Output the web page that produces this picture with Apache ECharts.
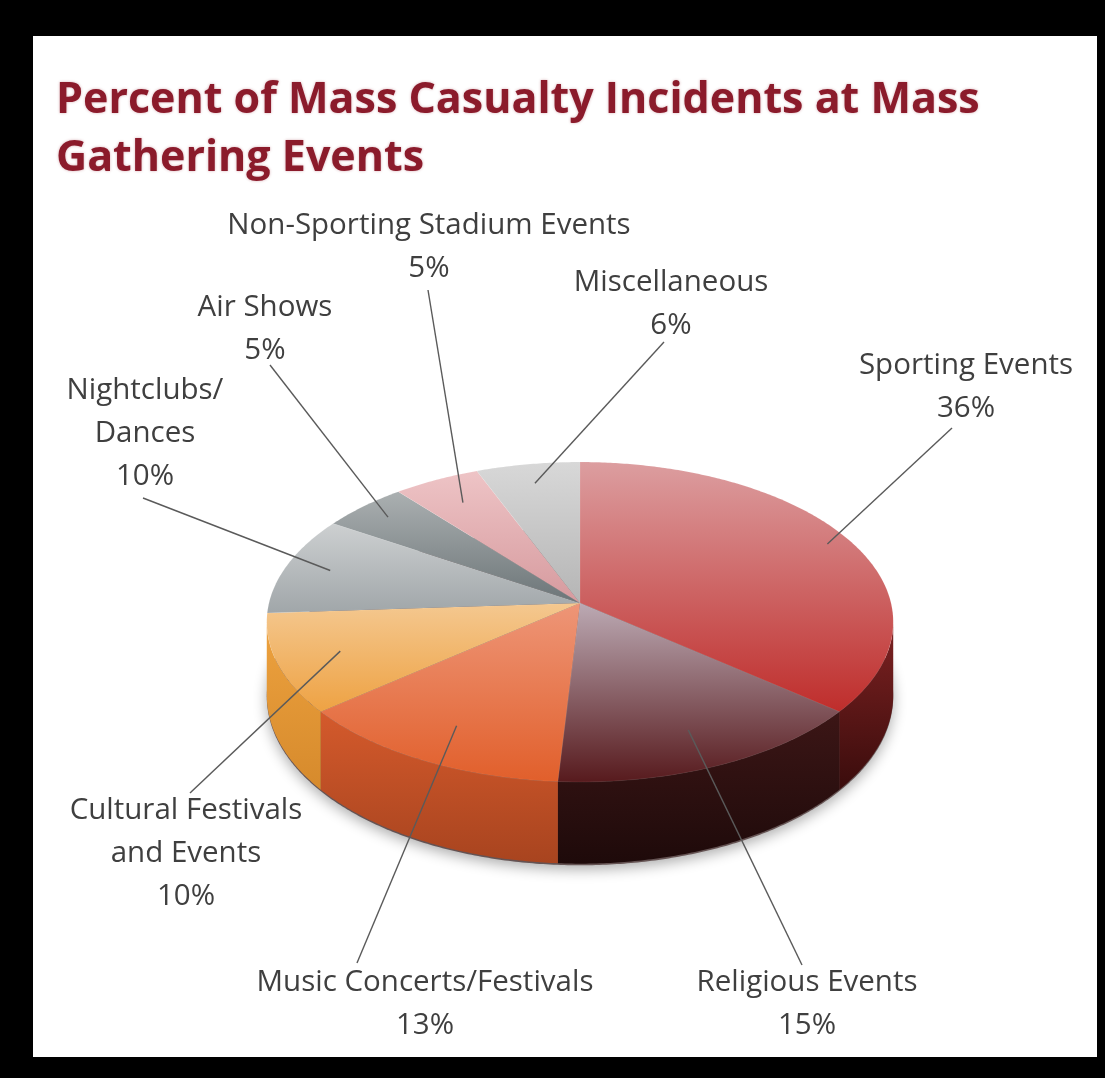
<!DOCTYPE html>
<html>
<head>
<meta charset="utf-8">
<script src="https://cdn.jsdelivr.net/npm/echarts@6/dist/echarts.min.js"></script>
<style>
html,body{margin:0;padding:0;background:#000;}
#chart{width:1105px;height:1078px;}
</style>
</head>
<body>
<div id="chart"></div>
<script>
// ---- data ----
const categories = ['Sporting Events', 'Religious Events', 'Music Concerts/Festivals', 'Cultural Festivals and Events', 'Nightclubs/ Dances', 'Air Shows', 'Non-Sporting Stadium Events', 'Miscellaneous'];
const values = [36, 15, 13, 10, 10, 5, 5, 6];
const labelNames = ['Sporting Events', 'Religious Events', 'Music Concerts/Festivals', 'Cultural Festivals\nand Events', 'Nightclubs/\nDances', 'Air Shows', 'Non-Sporting Stadium Events', 'Miscellaneous'];
const titleText = 'Percent of Mass Casualty Incidents at Mass\nGathering Events';

// ---- styles ----
const topColors = [
  ['#dc9ea0', '#bf2d2b'],
  ['#bcaab4', '#571a1d'],
  ['#ee9678', '#e15f2b'],
  ['#f4c890', '#eea243'],
  ['#cdd0d1', '#a0a6a9'],
  ['#abb0b1', '#6c7578'],
  ['#eec4c6', '#d69a9e'],
  ['#d8d8d8', '#b5b5b5']
];
const sideColors = [
  ['#7e2222', '#3a0c0c'],
  ['#3c1616', '#1e0a0a'],
  ['#d45a2c', '#a8441f'],
  ['#eda23f', '#d68a2c'],
  ['#a4a9ab', '#878c8e'],
  ['#6c7578', '#555c5e'],
  ['#c88a8e', '#a87074'],
  ['#a8a8a8', '#8a8a8a']
];
// pie geometry (perspective projection of a cylinder)
const P = { cx: 580, cy: 603, A: 311, B: 157.7, k: 0.1188, D: 72 };
// label layout: center x, top y of text block, leader line start
const labelLayout = [
  { x: 966, y: 344, lx: 952, ly: 428, rf: 0.92 },
  { x: 807, y: 961, lx: 802, ly: 965, rf: 0.8 },
  { x: 425, y: 961, lx: 357, ly: 963, rf: 0.8 },
  { x: 186, y: 789, lx: 190, ly: 793, rf: 0.8 },
  { x: 145, y: 369, lx: 143, ly: 498, rf: 0.85 },
  { x: 265, y: 286, lx: 270, ly: 365, rf: 0.88 },
  { x: 429, y: 204, lx: 428, ly: 290, rf: 0.8 },
  { x: 671, y: 261, lx: 664, ly: 342, rf: 0.85 }
];

const total = values.reduce((a, b) => a + b, 0);
const starts = [];
(function () { let acc = 0; values.forEach(v => { starts.push(acc); acc += v; }); })();

function proj(th, r, h) {
  const u = r * Math.sin(th), v = -r * Math.cos(th);
  const w = 1 - P.k * v;
  return [P.cx + P.A * u / w, P.cy + (P.B * v + P.D * h) / w];
}
function arcPts(a0, a1, r, h) {
  const pts = [];
  const n = Math.max(2, Math.ceil((a1 - a0) / 0.01));
  for (let i = 0; i <= n; i++) pts.push(proj(a0 + (a1 - a0) * i / n, r, h));
  return pts;
}
function grad(c, horizontal) {
  return new echarts.graphic.LinearGradient(0, 0, horizontal ? 1 : 0, horizontal ? 0 : 1, [
    { offset: 0, color: c[0] }, { offset: 1, color: c[1] }
  ]);
}

const chart = echarts.init(document.getElementById('chart'), null, { renderer: 'canvas' });
const visLo = Math.acos(-P.k), visHi = 2 * Math.PI - Math.acos(-P.k);

function renderItem(params, api) {
  const i = params.dataIndex;
  const val = api.value(0);
  const a0 = starts[i] / total * 2 * Math.PI;
  const a1 = a0 + val / total * 2 * Math.PI;
  const children = [];
  if (i === 0) {
    children.push({
      type: 'polygon', z2: 1,
      shape: { points: arcPts(0, 2 * Math.PI, 1, 1.02) },
      style: { fill: 'rgba(40,10,10,0.6)', shadowBlur: 14, shadowColor: 'rgba(0,0,0,0.55)', shadowOffsetY: 4 }
    });
  }
  // outer wall, visible front part
  const w0 = Math.max(a0, visLo), w1 = Math.min(a1, visHi);
  if (w1 > w0) {
    const topArc = arcPts(w0, w1, 1, 0);
    const botArc = arcPts(w0, w1, 1, 1).reverse();
    children.push({
      type: 'polygon', z2: 10 + i,
      shape: { points: topArc.concat(botArc) },
      style: { fill: grad(sideColors[i], false) }
    });
  }
  // top face
  children.push({
    type: 'polygon', z2: 100,
    shape: { points: [proj(0, 0, 0)].concat(arcPts(a0, a1, 1, 0)) },
    style: { fill: grad(topColors[i], false), stroke: 'rgba(255,255,255,0.12)', lineWidth: 0.6 }
  });
  // label + leader line
  const L = labelLayout[i];
  const mid = (a0 + a1) / 2;
  const anchor = proj(mid, L.rf, 0);
  children.push({
    type: 'line', z2: 200,
    shape: { x1: L.lx, y1: L.ly, x2: anchor[0], y2: anchor[1] },
    style: { stroke: '#5a5a5a', lineWidth: 1.4 }
  });
  children.push({
    type: 'text', z2: 210,
    x: L.x, y: L.y,
    style: {
      text: labelNames[i] + '\n' + val + '%',
      fontFamily: 'Open Sans', fontSize: 29.5, fill: '#3f3f3f',
      align: 'center', verticalAlign: 'top', lineHeight: 43
    }
  });
  return { type: 'group', children: children };
}

chart.setOption({
  backgroundColor: '#000',
  animation: false,
  title: {
    text: titleText, left: 56, top: 72, padding: 0,
    textStyle: {
      fontFamily: 'Open Sans', fontWeight: 'bold', fontSize: 43, color: '#8b1b2b', lineHeight: 58,
      textShadowColor: 'rgba(139,27,43,0.35)', textShadowBlur: 3
    }
  },
  graphic: [
    { type: 'rect', z: -10, shape: { x: 33, y: 36, width: 1064, height: 1021 }, style: { fill: '#fff' } }
  ],
  series: [{
    type: 'custom',
    name: 'Mass Casualty Incidents',
    coordinateSystem: 'none',
    renderItem: renderItem,
    data: values.map((v, i) => ({ name: categories[i], value: [v] }))
  }]
});
</script>
</body>
</html>
